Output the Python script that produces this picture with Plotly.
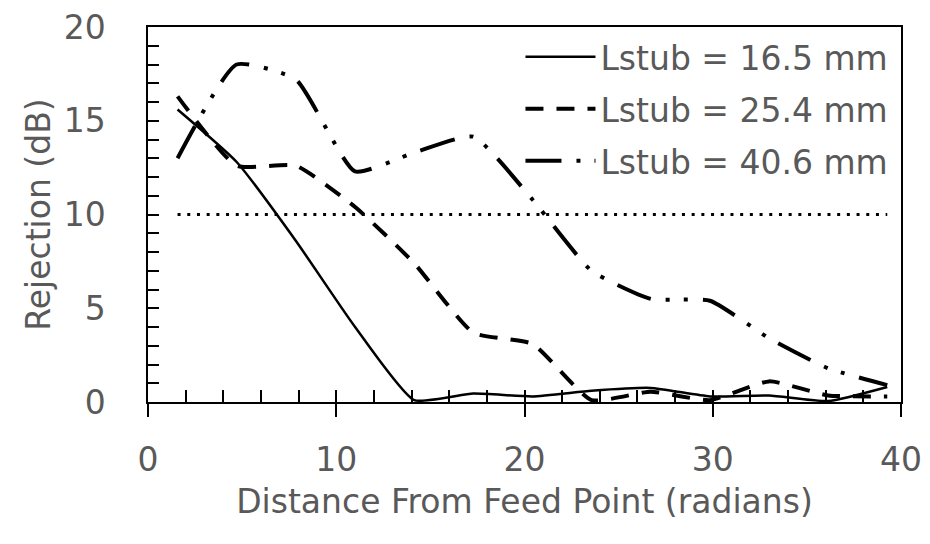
import plotly.graph_objects as go

# distance from feed point (radians)
x_rad = [1.57, 4.71, 7.85, 11.00, 14.14, 17.28, 20.42, 23.56, 26.70, 29.85, 32.99, 36.13, 39.27]
rej_165 = [15.6, 12.8, 8.6, 4.0, 0.1, 0.45, 0.3, 0.6, 0.75, 0.3, 0.35, 0.05, 0.8]
rej_254 = [16.3, 12.6, 12.6, 10.4, 7.4, 3.7, 3.1, 0.1, 0.55, 0.1, 1.1, 0.35, 0.3]
rej_406 = [13.0, 18.0, 17.2, 12.3, 13.3, 14.15, 10.8, 7.0, 5.5, 5.4, 3.4, 1.8, 0.9]
threshold = [10] * len(x_rad)
names = ["Lstub = 16.5 mm", "Lstub = 25.4 mm", "Lstub = 40.6 mm"]

FONT = "DejaVu Sans"
GRAY = "#595959"
FS = 33

fig = go.Figure()
fig.add_trace(go.Scatter(x=x_rad, y=rej_165, name=names[0], mode="lines", legendgroup="a",
                         line=dict(color="black", width=2.5, shape="spline", smoothing=0.5)))
fig.add_trace(go.Scatter(x=x_rad, y=rej_254, name=names[1], mode="lines", legendgroup="b",
                         line=dict(color="black", width=4, dash="18px,13px", shape="spline", smoothing=0.5)))
fig.add_trace(go.Scatter(x=x_rad, y=rej_406, name=names[2], mode="lines", legendgroup="c",
                         line=dict(color="black", width=4, dash="36px,15px,4px,14px,4px,15px",
                                   shape="spline", smoothing=0.5)))
fig.add_trace(go.Scatter(x=x_rad, y=threshold, mode="lines", showlegend=False, xaxis="x2",
                         line=dict(color="black", width=3, dash="3px,6.7px")))

fig.update_layout(
    width=914, height=528,
    margin=dict(l=140, r=21, t=19, b=134, autoexpand=False),
    paper_bgcolor="white", plot_bgcolor="white",
    font=dict(family=FONT, color=GRAY, size=FS),
    showlegend=True,
    legend=dict(x=0.99, y=0.995, xanchor="right", yanchor="top",
                bgcolor="rgba(0,0,0,0)", font=dict(size=FS, color=GRAY, family=FONT),
                tracegroupgap=6, itemwidth=70),
    xaxis=dict(range=[0, 40], dtick=10, tick0=0, ticks="outside", ticklen=13, tickwidth=1.5,
               tickcolor="black", showline=True, linecolor="black", linewidth=1.5, mirror=True,
               showgrid=False, zeroline=False, ticklabelstandoff=15, automargin=False,
               ticklabeloverflow="allow",
               tickfont=dict(size=FS, color=GRAY, family=FONT),
               title=dict(text="Distance From Feed Point (radians)", standoff=12,
                          font=dict(size=FS, color=GRAY, family=FONT))),
    xaxis2=dict(range=[0, 40], overlaying="x", anchor="y", side="bottom", dtick=2, tick0=0,
                ticks="inside", ticklen=12, tickwidth=1.5, tickcolor="black", automargin=False,
                showticklabels=False, showgrid=False, zeroline=False, showline=False),
    yaxis=dict(range=[0, 20], dtick=5, tick0=0, ticks="inside", ticklen=11, tickwidth=1.5,
               tickcolor="black", showline=True, linecolor="black", linewidth=1.5, mirror=True,
               showgrid=False, zeroline=False, ticklabelstandoff=34, automargin=False,
               ticklabeloverflow="allow",
               minor=dict(dtick=1, ticks="inside", ticklen=11, tickwidth=1.5, tickcolor="black",
                          showgrid=False),
               tickfont=dict(size=FS, color=GRAY, family=FONT),
               title=dict(text="Rejection (dB)", standoff=3,
                          font=dict(size=FS, color=GRAY, family=FONT))),
)

fig.write_html("out.html")
